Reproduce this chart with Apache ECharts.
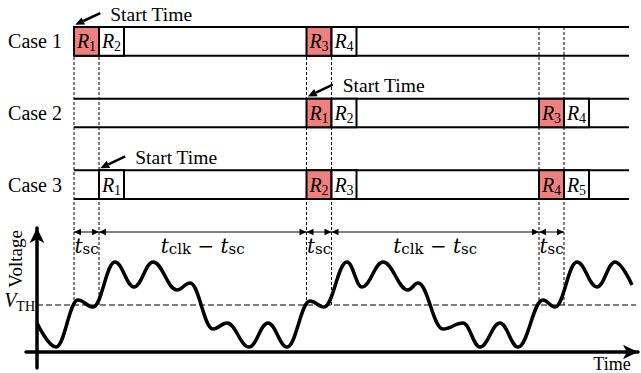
<!DOCTYPE html>
<html>
<head>
<meta charset="utf-8">
<script src="https://cdn.jsdelivr.net/npm/echarts@6/dist/echarts.min.js"></script>
<style>
  html, body { margin: 0; padding: 0; background: #fff; }
  #chart { width: 641px; height: 373px; }
</style>
</head>
<body>
<div id="chart"></div>
<script>
// ---------- data ----------
const cases = ['Case 1', 'Case 2', 'Case 3'];
const tSc = 1;          // sensing window width (time units)
const tClk = 9.3;       // clock period
const rowEnd = 22.2;    // right end of the register timelines

// register slots: case index, start time, register number, sensed (1) or not (0)
const slotCase  = [0, 0, 0, 0,   1, 1, 1, 1,   2, 2, 2, 2, 2];
const slotStart = [0, 1, 9.3, 10.3,   9.3, 10.3, 18.6, 19.6,   1, 9.3, 10.3, 18.6, 19.6];
const slotReg   = [1, 2, 3, 4,   1, 2, 3, 4,   1, 2, 3, 4, 5];
const slotHot   = [1, 0, 1, 0,   1, 0, 1, 0,   0, 1, 0, 1, 0];

// start time of each case
const startTimes = [0, 9.3, 1];

// dashed guides from the timelines down to the threshold
const guideTimes = [0, 1, 9.3, 10.3, 18.6, 19.6];

// interval markers above the voltage trace
const spanFrom = [0, 1, 9.3, 10.3, 18.6];
const spanTo   = [1, 9.3, 10.3, 18.6, 19.6];
const spanKind = [0, 1, 0, 1, 0];
const spanLabels = ['{t|t}{s|sc}', '{t|t}{s|clk}{m| − }{t|t}{s|sc}'];

// voltage trace (turning points)
const waveT = [-1.48, -0.72, 0.16, 0.76, 1.64, 2.4, 3.16, 4.12, 4.64, 5.56, 6.12, 7.0, 7.76, 8.52,
               9.44, 10.0, 10.92, 11.52, 12.36, 13.36, 13.76, 14.76, 15.56, 16.24, 17.04, 17.76,
               18.76, 19.24, 20.12, 20.92, 21.64, 22.32];
const waveV = [2.9, 0.5, 5.2, 4.5, 9.0, 6.5, 9.0, 6.2, 6.9, 2.3, 2.9, 0.5, 2.9, 0.5,
               5.1, 4.5, 9.0, 6.5, 9.0, 6.2, 6.9, 2.3, 2.9, 0.5, 2.9, 0.5,
               5.2, 4.5, 9.0, 6.5, 9.0, 6.7];
const vTh = 4.7;        // threshold voltage
const tOrigin = -1.48;  // time at which the voltage axis stands
const tThEnd = 22.48;   // right end of the threshold line

// ---------- style ----------
const serif = 'Liberation Serif, serif';
const mathSerif = 'DejaVu Serif, serif';
const RED = '#F08080';
const rowHalf = 0.2;         // half height of a timeline row (lane units)
const spanLevel = 12;        // voltage level of the interval arrows
const spanLabelLevel = 10.65; // voltage level of their labels

const mathRich = {
  t: { fontFamily: mathSerif, fontStyle: 'italic', fontSize: 20, fill: '#000' },
  s: { fontFamily: mathSerif, fontSize: 15, fill: '#000', padding: [7, 0, 0, 0] },
  m: { fontFamily: mathSerif, fontSize: 20, fill: '#000' }
};
const regRich = {
  r: { fontFamily: serif, fontStyle: 'italic', fontSize: 20, fill: '#000' },
  s: { fontFamily: serif, fontSize: 14, fill: '#000', padding: [11, 0, 0, 0] }
};
const vRich = {
  v: { fontFamily: serif, fontStyle: 'italic', fontSize: 20, fill: '#000' },
  s: { fontFamily: serif, fontSize: 14, fill: '#000', padding: [13, 0, 0, 0] }
};

// filled triangular arrow head with its point at `tip`, coming from `from`
function arrowHead(tip, from, len, half) {
  const dx = tip[0] - from[0], dy = tip[1] - from[1];
  const d = Math.hypot(dx, dy) || 1;
  const ux = dx / d, uy = dy / d;
  const bx = tip[0] - ux * len, by = tip[1] - uy * len;
  return {
    points: [[tip[0], tip[1]], [bx - uy * half, by + ux * half], [bx + uy * half, by - ux * half]],
    base: [bx, by]
  };
}

const chart = echarts.init(document.getElementById('chart'), null, { renderer: 'svg' });

const option = {
  animation: false,
  backgroundColor: '#fff',
  textStyle: { fontFamily: serif },
  grid: [
    { left: 74, right: 12, top: 27, height: 172 },
    { left: 26, right: 3, top: 228, bottom: 5 }
  ],
  xAxis: [
    { gridIndex: 0, type: 'value', min: 0, max: rowEnd, show: false },
    {
      gridIndex: 1, type: 'value', min: -1.92, max: 22.56,
      axisLine: { show: true, onZero: true, symbol: ['none', 'arrow'], symbolSize: [11, 15],
                  lineStyle: { color: '#000', width: 3.5 } },
      axisTick: { show: false }, axisLabel: { show: false }, splitLine: { show: false }
    }
  ],
  yAxis: [
    { gridIndex: 0, type: 'value', min: -rowHalf, max: cases.length - 1 + rowHalf, inverse: true, show: false },
    {
      gridIndex: 1, type: 'value', min: -1.6, max: 12.4, offset: -11,
      axisLine: { show: true, onZero: false, symbol: ['none', 'arrow'], symbolSize: [11, 15],
                  lineStyle: { color: '#000', width: 3.5 } },
      axisTick: { show: false }, axisLabel: { show: false }, splitLine: { show: false }
    }
  ],
  graphic: [
    { type: 'text', x: 15, y: 259, rotation: Math.PI / 2,
      style: { text: 'Voltage', fontSize: 19, fontFamily: serif, fill: '#000', align: 'center', verticalAlign: 'middle' } },
    { type: 'text', x: 612, y: 364,
      style: { text: 'Time', fontSize: 18, fontFamily: serif, fill: '#000', align: 'center', verticalAlign: 'middle' } }
  ],
  series: [
    // dashed guides (top filled in once the layout is known)
    {
      id: 'guides', type: 'custom', xAxisIndex: 1, yAxisIndex: 1, z: 1,
      data: guideTimes.map(t => [t, vTh, vTh]),
      renderItem(params, api) {
        const top = api.coord([api.value(0), api.value(2)]);
        const bot = api.coord([api.value(0), api.value(1)]);
        return { type: 'line', shape: { x1: top[0], y1: top[1], x2: bot[0], y2: bot[1] },
                 style: { stroke: '#000', lineWidth: 1, lineDash: [3, 2] } };
      }
    },
    // timeline rows with case names
    {
      type: 'custom', xAxisIndex: 0, yAxisIndex: 0, z: 2,
      data: cases.map((c, i) => [0, i]),
      renderItem(params, api) {
        const lane = api.value(1);
        const a = api.coord([api.value(0), lane - rowHalf]);
        const b = api.coord([rowEnd, lane - rowHalf]);
        const c = api.coord([api.value(0), lane + rowHalf]);
        const d = api.coord([rowEnd, lane + rowHalf]);
        const m = api.coord([api.value(0), lane]);
        return { type: 'group', children: [
          { type: 'line', shape: { x1: a[0], y1: a[1], x2: b[0], y2: b[1] }, style: { stroke: '#000', lineWidth: 2 } },
          { type: 'line', shape: { x1: c[0], y1: c[1], x2: d[0], y2: d[1] }, style: { stroke: '#000', lineWidth: 2 } },
          { type: 'text', x: m[0] - 12, y: m[1],
            style: { text: cases[lane], fontSize: 20, fontFamily: serif, fill: '#000', align: 'right', verticalAlign: 'middle' } }
        ] };
      }
    },
    // register slots
    {
      type: 'custom', xAxisIndex: 0, yAxisIndex: 0, z: 3,
      data: slotStart.map((t, i) => [t, slotCase[i], slotReg[i], slotHot[i]]),
      renderItem(params, api) {
        const t = api.value(0), lane = api.value(1);
        const p = api.coord([t, lane - rowHalf]);
        const q = api.coord([t + tSc, lane + rowHalf]);
        return { type: 'group', children: [
          { type: 'rect', shape: { x: p[0], y: p[1], width: q[0] - p[0], height: q[1] - p[1] },
            style: { fill: api.value(3) ? RED : '#fff', stroke: '#000', lineWidth: 2 } },
          { type: 'text', x: (p[0] + q[0]) / 2, y: (p[1] + q[1]) / 2,
            style: { text: '{r|R}{s|' + api.value(2) + '}', rich: regRich, align: 'center', verticalAlign: 'middle' } }
        ] };
      }
    },
    // "Start Time" pointers
    {
      type: 'custom', xAxisIndex: 0, yAxisIndex: 0, z: 3,
      data: startTimes.map((t, i) => [t, i]),
      renderItem(params, api) {
        const t = api.value(0), lane = api.value(1);
        const tail = api.coord([t + 1.05, lane - rowHalf - 0.195]);
        const tip = api.coord([t + 0.05, lane - rowHalf - 0.03]);
        const txt = api.coord([t + 1.45, lane - rowHalf - 0.18]);
        const head = arrowHead(tip, tail, 9, 4);
        return { type: 'group', children: [
          { type: 'line', shape: { x1: tail[0], y1: tail[1], x2: head.base[0], y2: head.base[1] },
            style: { stroke: '#000', lineWidth: 2.5 } },
          { type: 'polygon', shape: { points: head.points }, style: { fill: '#000' } },
          { type: 'text', x: txt[0], y: txt[1],
            style: { text: 'Start Time', fontSize: 19.5, fontFamily: serif, fill: '#000', align: 'left', verticalAlign: 'middle' } }
        ] };
      }
    },
    // interval arrows t_sc / t_clk - t_sc
    {
      type: 'custom', xAxisIndex: 1, yAxisIndex: 1, z: 3,
      data: spanFrom.map((f, i) => [f, spanTo[i], spanKind[i]]),
      renderItem(params, api) {
        const a = api.coord([api.value(0), spanLevel]);
        const b = api.coord([api.value(1), spanLevel]);
        const lab = api.coord([(api.value(0) + api.value(1)) / 2, spanLabelLevel]);
        const ha = arrowHead(a, b, 7, 3.3);
        const hb = arrowHead(b, a, 7, 3.3);
        return { type: 'group', children: [
          { type: 'line', shape: { x1: a[0], y1: a[1], x2: b[0], y2: b[1] }, style: { stroke: '#000', lineWidth: 1 } },
          { type: 'polygon', shape: { points: ha.points }, style: { fill: '#000' } },
          { type: 'polygon', shape: { points: hb.points }, style: { fill: '#000' } },
          { type: 'text', x: lab[0], y: lab[1],
            style: { text: spanLabels[api.value(2)], rich: mathRich, align: 'center', verticalAlign: 'middle' } }
        ] };
      }
    },
    // threshold line
    {
      type: 'line', xAxisIndex: 1, yAxisIndex: 1, z: 2,
      data: [[tOrigin, vTh], [tThEnd, vTh]],
      showSymbol: false, symbol: 'none',
      lineStyle: { color: '#000', width: 1.2, type: [6, 3] }
    },
    // threshold label
    {
      type: 'custom', xAxisIndex: 1, yAxisIndex: 1, z: 3,
      data: [[tOrigin, vTh]],
      renderItem(params, api) {
        const p = api.coord([api.value(0), api.value(1)]);
        return { type: 'text', x: p[0] - 2, y: p[1] - 5,
                 style: { text: '{v|V}{s|TH}', rich: vRich, align: 'right', verticalAlign: 'middle' } };
      }
    },
    // voltage trace
    {
      type: 'line', xAxisIndex: 1, yAxisIndex: 1, z: 4,
      data: waveT.map((t, i) => [t, waveV[i]]),
      smooth: 0.4, smoothMonotone: 'x',
      showSymbol: false, symbol: 'none',
      lineStyle: { color: '#000', width: 3.5 }
    }
  ]
};

chart.setOption(option);

// guides start at the top edge of the first timeline row
const topPx = chart.convertToPixel({ gridIndex: 0 }, [0, -rowHalf])[1];
const vTop = chart.convertFromPixel({ gridIndex: 1 }, [0, topPx])[1];
chart.setOption({ series: [{ id: 'guides', data: guideTimes.map(t => [t, vTh, vTop]) }] });
</script>
</body>
</html>
